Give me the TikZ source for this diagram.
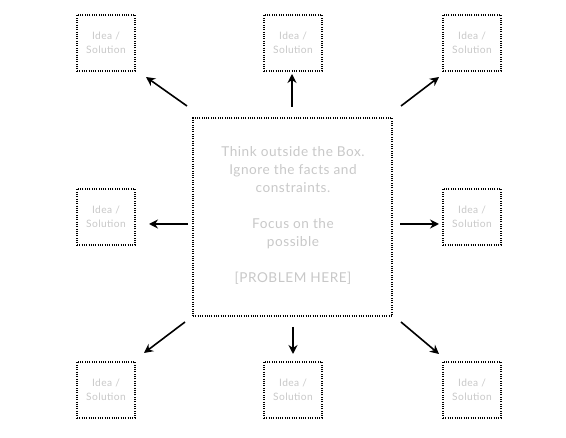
\documentclass[tikz,border=0pt]{standalone}
\usepackage{fontspec}
\setmainfont{Lato}[LetterSpace=4]
\usetikzlibrary{arrows.meta}
\definecolor{txt}{HTML}{C8C8C8}
\begin{document}
\begin{tikzpicture}[x=1pt,y=-1pt,
  dotbox/.style={draw=black,line width=1.05pt,dash pattern=on 1pt off 1.3pt},
  idea/.style={dotbox,minimum width=58pt,minimum height=56pt,inner sep=0pt,
    font=\fontsize{10.2}{13.5}\selectfont,text=txt,align=center},
  arr/.style={line width=1.6pt,-{Stealth[length=9pt,width=9pt]}}]
\useasboundingbox (0,0) rectangle (566,438);
\node[dotbox,minimum width=199pt,minimum height=198pt,inner sep=0pt] (c) at (292.5,217) {};
\node[text=txt,align=center,font=\fontsize{13.6}{18}\selectfont] (ct) at (293,215)
  {Think outside the Box.\\Ignore the facts and\\constraints.\\[18pt]Focus on the\\possible\\[18pt][PROBLEM HERE]};
\node[idea] (tl) at (106,43) {Idea /\\Solution};
\node[idea] (tm) at (293,43) {Idea /\\Solution};
\node[idea] (tr) at (472,43) {Idea /\\Solution};
\node[idea] (ml) at (106,217) {Idea /\\Solution};
\node[idea] (mr) at (472,217) {Idea /\\Solution};
\node[idea] (bl) at (106,390) {Idea /\\Solution};
\node[idea] (bm) at (293,390) {Idea /\\Solution};
\node[idea] (br) at (472,390) {Idea /\\Solution};
\coordinate (a1s) at (187,106); \coordinate (a1e) at (146,77);
\coordinate (a2s) at (292,107); \coordinate (a2e) at (292,74);
\coordinate (a3s) at (401,106); \coordinate (a3e) at (439,77);
\coordinate (a4s) at (188,224); \coordinate (a4e) at (149,224);
\coordinate (a5s) at (400,224); \coordinate (a5e) at (439,224);
\coordinate (a6s) at (185,322); \coordinate (a6e) at (144,353);
\coordinate (a7s) at (293,327); \coordinate (a7e) at (293,354);
\coordinate (a8s) at (401,322); \coordinate (a8e) at (439,354);
\foreach \i in {1,...,8} \draw[arr] (a\i s) -- (a\i e);
\end{tikzpicture}
\end{document}
